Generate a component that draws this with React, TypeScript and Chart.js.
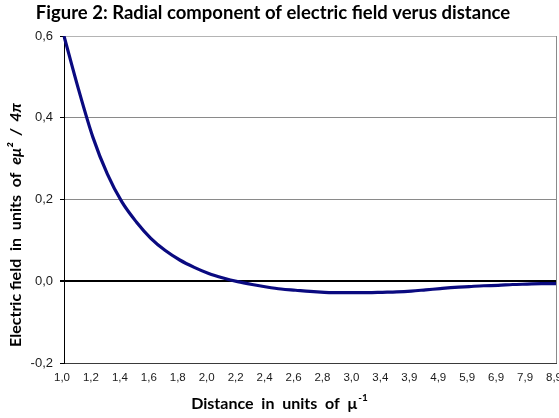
import React, { useEffect, useRef } from "react";
import { Chart, registerables } from "chart.js";

Chart.register(...registerables);

const categories = [
  "1,0", "1,1", "1,2", "1,3", "1,4", "1,5", "1,6", "1,7", "1,8", "1,9",
  "2,0", "2,1", "2,2", "2,3", "2,4", "2,5", "2,6", "2,7", "2,8", "2,9",
  "3,0", "3,2", "3,4", "3,6", "3,9", "4,4", "4,9", "5,4", "5,9", "6,4",
  "6,9", "7,4", "7,9", "8,4", "8,9",
];

const fieldValues = [
  0.6, 0.47, 0.352, 0.262, 0.194, 0.145, 0.105, 0.075, 0.052, 0.034,
  0.019, 0.008, -0.001, -0.008, -0.014, -0.019, -0.022, -0.025, -0.027, -0.028,
  -0.028, -0.028, -0.027, -0.026, -0.024, -0.021, -0.018, -0.015, -0.013, -0.011,
  -0.01, -0.008, -0.007, -0.006, -0.006,
];

const yMin = -0.2;
const yMax = 0.6;
const yStep = 0.2;

const titleText = "Figure 2: Radial component of electric field verus distance";
const yTitleMain = "Electric field  in  units  of  ";
const yTitleItalic = "eμ²  /  4π";
const xTitleMain = "Distance  in  units  of  μ";
const xTitleSup = "-1";

const W = 559;
const H = 418;

const titlesPlugin = {
  id: "customTitles",
  afterDraw(chart: any) {
    const ctx = chart.ctx as CanvasRenderingContext2D;
    const a = chart.chartArea;
    ctx.save();
    // right border of plot area
    ctx.strokeStyle = "#8a8a8a";
    ctx.lineWidth = 1;
    ctx.beginPath();
    const rx = Math.round(a.right) + 0.5;
    ctx.moveTo(rx, a.top);
    ctx.lineTo(rx, a.bottom);
    ctx.stroke();

    // main title
    ctx.fillStyle = "#000";
    ctx.font = "bold 18.5px Lato";
    ctx.textAlign = "center";
    ctx.textBaseline = "alphabetic";
    ctx.fillText(titleText, 273, 19);

    // x axis title
    ctx.textAlign = "left";
    ctx.font = "bold 16px Lato";
    const w1 = ctx.measureText(xTitleMain).width;
    ctx.font = "bold 10px Lato";
    const w2 = ctx.measureText(xTitleSup).width;
    const xs = 279 - (w1 + w2) / 2;
    ctx.font = "bold 16px Lato";
    ctx.fillText(xTitleMain, xs, 409);
    ctx.font = "bold 10px Lato";
    ctx.fillText(xTitleSup, xs + w1 + 1, 401);

    // y axis title
    ctx.translate(16, 225);
    ctx.rotate(-Math.PI / 2);
    ctx.font = "bold 16px Lato";
    const m1 = ctx.measureText(yTitleMain).width;
    ctx.font = "bold italic 16px Lato";
    const m2 = ctx.measureText(yTitleItalic).width;
    const ys = -(m1 + m2) / 2;
    ctx.textBaseline = "middle";
    ctx.font = "bold 16px Lato";
    ctx.fillText(yTitleMain, ys, 0);
    ctx.font = "bold italic 16px Lato";
    ctx.fillText(yTitleItalic, ys + m1, 0);
    ctx.restore();
  },
};

export default function App() {
  const ref = useRef<HTMLCanvasElement | null>(null);
  useEffect(() => {
    if (!ref.current) return;
    const chart = new Chart(ref.current, {
      type: "line",
      data: {
        labels: categories,
        datasets: [
          {
            data: fieldValues,
            borderColor: "#0a0a80",
            borderWidth: 3.2,
            pointRadius: 0,
            tension: 0.4,
            cubicInterpolationMode: "monotone",
            fill: false,
          },
        ],
      },
      options: {
        responsive: false,
        animation: false,
        devicePixelRatio: 1,
        layout: { padding: { left: 0, right: 3, top: 36, bottom: 0 } },
        plugins: {
          legend: { display: false },
          title: { display: false },
          tooltip: { enabled: false },
        },
        scales: {
          x: {
            type: "category",
            offset: false,
            grid: { display: false },
            border: { display: true, color: "#3a3a3a", width: 1 },
            ticks: {
              autoSkip: false,
              maxRotation: 0,
              minRotation: 0,
              labelOffset: -2,
              padding: 0,
              color: "#1a1a1a",
              font: { family: "Liberation Sans", size: 11.5 },
              callback: (_v: any, i: number) => (i % 2 === 0 ? categories[i] : ""),
            },
            afterFit: (s: any) => {
              s.height = 55;
              s.paddingLeft = 0;
              s.paddingRight = 0;
            },
          },
          y: {
            min: yMin,
            max: yMax,
            border: { display: true, color: "#000", width: 1 },
            grid: {
              color: (c: any) => {
                const v = c.tick ? c.tick.value : null;
                if (v !== null && Math.abs(v) < 1e-9) return "#000";
                if (v !== null && Math.abs(v - yMax) < 1e-9) return "#b4b4b4";
                if (v !== null && Math.abs(v - yMin) < 1e-9) return "#3a3a3a";
                return "#8a8a8a";
              },
              lineWidth: (c: any) => {
                const v = c.tick ? c.tick.value : null;
                if (v !== null && Math.abs(v) < 1e-9) return 2;
                return 1;
              },
              tickLength: 4,
              tickColor: "#000",
            },
            ticks: {
              stepSize: yStep,
              padding: 7,
              color: "#1a1a1a",
              font: { family: "Liberation Sans", size: 13 },
              callback: (v: any) => Number(v).toFixed(1).replace(".", ","),
            },
            afterFit: (s: any) => {
              s.width = 64;
              s.paddingTop = 0;
              s.paddingBottom = 0;
            },
          },
        },
      },
      plugins: [titlesPlugin],
    });
    return () => chart.destroy();
  }, []);
  return (
    <div style={{ position: "fixed", left: 0, top: 0, width: W, height: H, background: "#fff" }}>
      <canvas ref={ref} width={W} height={H} style={{ width: W, height: H }} />
    </div>
  );
}
